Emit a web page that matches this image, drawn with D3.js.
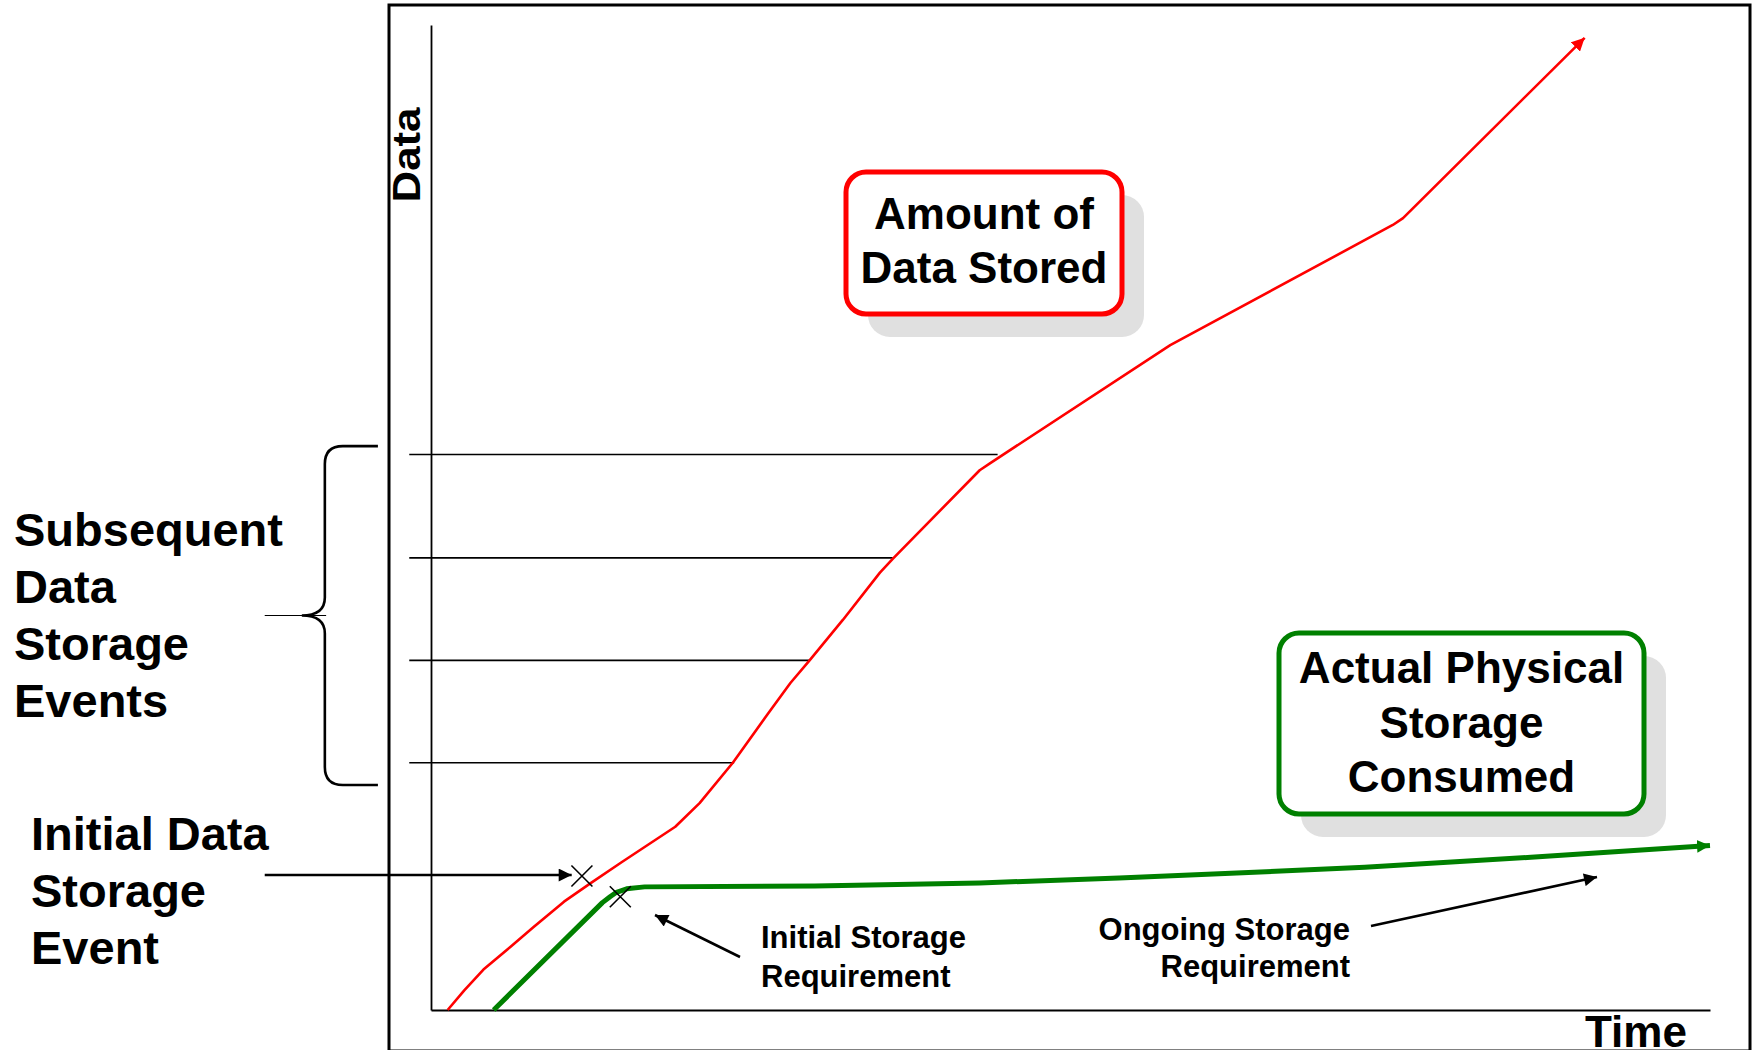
<!DOCTYPE html>
<html>
<head>
<meta charset="utf-8">
<script src="https://cdn.jsdelivr.net/npm/d3@7"></script>
<style>
  html, body { margin: 0; padding: 0; background: #ffffff; overflow: hidden; }
  svg { display: block; }
  text { font-family: "Liberation Sans", Arial, Helvetica, sans-serif; font-weight: bold; fill: #000; }
</style>
</head>
<body>
<script>
// ---------------- data ----------------
// "Amount of Data Stored" (time, data) in abstract units 0..100
const storedTime = [1.3, 2.6, 4.1, 6.2, 8.0, 10.4, 12.4, 14.9, 19.1, 21.0, 23.6, 26.3, 28.1, 29.6, 32.2, 35.1, 36.1, 42.9, 43.7, 57.8, 75.2, 76.0, 90.2];
const storedData = [0.0, 2.0, 4.1, 6.4, 8.4, 11.0, 12.8, 15.0, 18.6, 21.0, 25.1, 30.0, 33.2, 35.5, 39.6, 44.4, 45.8, 54.8, 55.5, 67.5, 79.7, 80.4, 98.7];
// "Actual Physical Storage Consumed"
const consumedTime = [4.9, 13.4, 14.0, 14.5, 15.3, 16.7, 30.0, 42.9, 53.8, 63.0, 73.0, 86.0, 100.0];
const consumedData = [0.0, 10.9, 11.5, 11.95, 12.3, 12.5, 12.6, 12.9, 13.4, 13.9, 14.5, 15.5, 16.7];
// Subsequent data storage events (data level, time at which the red curve reaches it)
const eventLevels = [56.4, 45.9, 35.5, 25.1];
const eventTimes = [44.3, 36.1, 29.6, 23.7];
// Initial events (X markers)
const markTime = [11.8, 14.8];
const markData = [13.6, 11.5];
// Text labels
const axisLabels = ["Data", "Time"];
const storedBoxLines = ["Amount of", "Data Stored"];
const consumedBoxLines = ["Actual Physical", "Storage", "Consumed"];
const subsequentLines = ["Subsequent", "Data", "Storage", "Events"];
const initialLines = ["Initial Data", "Storage", "Event"];
const initialReqLines = ["Initial Storage", "Requirement"];
const ongoingReqLines = ["Ongoing Storage", "Requirement"];

// ---------------- layout ----------------
const W = 1754, H = 1050;
const RED = "#ff0000", GREEN = "#008000", SHADOW = "#e0e0e0";

const svg = d3.select("body").append("svg").attr("width", W).attr("height", H);

const x = d3.scaleLinear().domain([0, 100]).range([431, 1710]);
const y = d3.scaleLinear().domain([0, 100]).range([1010, 25]);

const defs = svg.append("defs");
function marker(id, color, w, h) {
  defs.append("marker")
    .attr("id", id)
    .attr("viewBox", "0 0 10 10")
    .attr("refX", 10).attr("refY", 5)
    .attr("markerUnits", "userSpaceOnUse")
    .attr("markerWidth", w).attr("markerHeight", h)
    .attr("orient", "auto")
    .append("path").attr("d", "M0,0 L10,5 L0,10 Z").attr("fill", color);
}
marker("arRed", RED, 13, 13);
marker("arGreen", GREEN, 13, 17);
marker("arBlack", "#000", 15, 13);

// outer frame (bottom edge falls just past the picture)
svg.append("rect")
  .attr("x", 389).attr("y", 5).attr("width", 1361).attr("height", 1046)
  .attr("fill", "none").attr("stroke", "#000").attr("stroke-width", 3);

// axes (domain lines only)
const yAxis = d3.axisLeft(y).ticks(0).tickSizeOuter(0).tickFormat("");
const xAxis = d3.axisBottom(x).ticks(0).tickSizeOuter(0).tickFormat("");
svg.append("g").attr("transform", `translate(${x(0)},0)`).call(yAxis)
  .select(".domain").attr("stroke", "#000").attr("stroke-width", 1.8);
svg.append("g").attr("transform", `translate(0,${y(0)})`).call(xAxis)
  .select(".domain").attr("stroke", "#000").attr("stroke-width", 1.8);

// axis labels
svg.append("text")
  .attr("transform", `translate(420,${y(86.8)}) rotate(-90)`)
  .attr("text-anchor", "middle")
  .attr("font-size", 38)
  .attr("textLength", 95).attr("lengthAdjust", "spacingAndGlyphs")
  .text(axisLabels[0]);
svg.append("text")
  .attr("x", 1585).attr("y", 1047)
  .attr("font-size", 44)
  .attr("textLength", 102).attr("lengthAdjust", "spacingAndGlyphs")
  .text(axisLabels[1]);

// subsequent event lines
svg.append("g").selectAll("line")
  .data(eventLevels)
  .join("line")
  .attr("x1", x(-1.7)).attr("x2", (d, i) => x(eventTimes[i]))
  .attr("y1", d => y(d)).attr("y2", d => y(d))
  .attr("stroke", "#000").attr("stroke-width", 1.6);

// brace
const bx0 = x(-4.15), bx1 = x(-8.3), bxt = x(-10.1);
const byTop = y(57.25), byBot = y(22.85), byMid = y(40.05);
const r = 18;
svg.append("path")
  .attr("d", `M${bx0},${byTop} H${bx1 + r} Q${bx1},${byTop} ${bx1},${byTop + r}
              V${byMid - r} Q${bx1},${byMid} ${bxt},${byMid}
              Q${bx1},${byMid} ${bx1},${byMid + r}
              V${byBot - r} Q${bx1},${byBot} ${bx1 + r},${byBot} H${bx0}`)
  .attr("fill", "none").attr("stroke", "#000").attr("stroke-width", 2.6);
svg.append("line")
  .attr("x1", x(-13)).attr("x2", x(-8.2))
  .attr("y1", byMid).attr("y2", byMid)
  .attr("stroke", "#000").attr("stroke-width", 1.2);

// data series
const line = d3.line().curve(d3.curveLinear);
const storedPts = storedTime.map((t, i) => [x(t), y(storedData[i])]);
const consumedPts = consumedTime.map((t, i) => [x(t), y(consumedData[i])]);

svg.append("path")
  .attr("d", line(storedPts))
  .attr("fill", "none").attr("stroke", RED).attr("stroke-width", 2.6)
  .attr("stroke-linejoin", "round")
  .attr("marker-end", "url(#arRed)");

svg.append("path")
  .attr("d", line(consumedPts))
  .attr("fill", "none").attr("stroke", GREEN).attr("stroke-width", 5)
  .attr("stroke-linejoin", "round")
  .attr("marker-end", "url(#arGreen)");

// X markers
const xs = 10.5;
svg.append("g").selectAll("path")
  .data(markTime)
  .join("path")
  .attr("d", (t, i) => {
    const cx = x(t), cy = y(markData[i]);
    return `M${cx - xs},${cy - xs} L${cx + xs},${cy + xs} M${cx - xs},${cy + xs} L${cx + xs},${cy - xs}`;
  })
  .attr("stroke", "#000").attr("stroke-width", 1.6).attr("fill", "none");

// annotation arrows
function arrow(x1, y1, x2, y2) {
  svg.append("line")
    .attr("x1", x1).attr("y1", y1).attr("x2", x2).attr("y2", y2)
    .attr("stroke", "#000").attr("stroke-width", 2.6)
    .attr("marker-end", "url(#arBlack)");
}
arrow(x(-13), y(13.7), x(11.0), y(13.7));
arrow(740, 957, 655, 915);
arrow(1371, 926, 1597, 877);

// boxes with shadows
function box(x0, y0, w, h, color, lines, cx, baseline0, step) {
  svg.append("rect")
    .attr("x", x0 + 22).attr("y", y0 + 23).attr("width", w).attr("height", h)
    .attr("rx", 22).attr("ry", 22).attr("fill", SHADOW);
  svg.append("rect")
    .attr("x", x0).attr("y", y0).attr("width", w).attr("height", h)
    .attr("rx", 20).attr("ry", 20).attr("fill", "#fff")
    .attr("stroke", color).attr("stroke-width", 5);
  svg.append("g").selectAll("text")
    .data(lines)
    .join("text")
    .attr("x", cx).attr("y", (d, i) => baseline0 + i * step)
    .attr("text-anchor", "middle")
    .attr("font-size", 44)
    .text(d => d);
}
box(846, 172, 276, 142, RED, storedBoxLines, 984, 229, 54);
box(1279, 633, 365, 181, GREEN, consumedBoxLines, 1461.5, 683, 54.5);

// left labels
svg.append("g").selectAll("text")
  .data(subsequentLines)
  .join("text")
  .attr("x", 14).attr("y", (d, i) => 546 + i * 57)
  .attr("font-size", 47)
  .text(d => d);
svg.append("g").selectAll("text")
  .data(initialLines)
  .join("text")
  .attr("x", 31).attr("y", (d, i) => 850 + i * 57)
  .attr("font-size", 47)
  .text(d => d);

// requirement labels
svg.append("g").selectAll("text")
  .data(initialReqLines)
  .join("text")
  .attr("x", 761).attr("y", (d, i) => 948 + i * 38.5)
  .attr("font-size", 31)
  .text(d => d);
svg.append("g").selectAll("text")
  .data(ongoingReqLines)
  .join("text")
  .attr("x", 1350).attr("y", (d, i) => 940 + i * 37)
  .attr("text-anchor", "end")
  .attr("font-size", 31)
  .text(d => d);
</script>
</body>
</html>
